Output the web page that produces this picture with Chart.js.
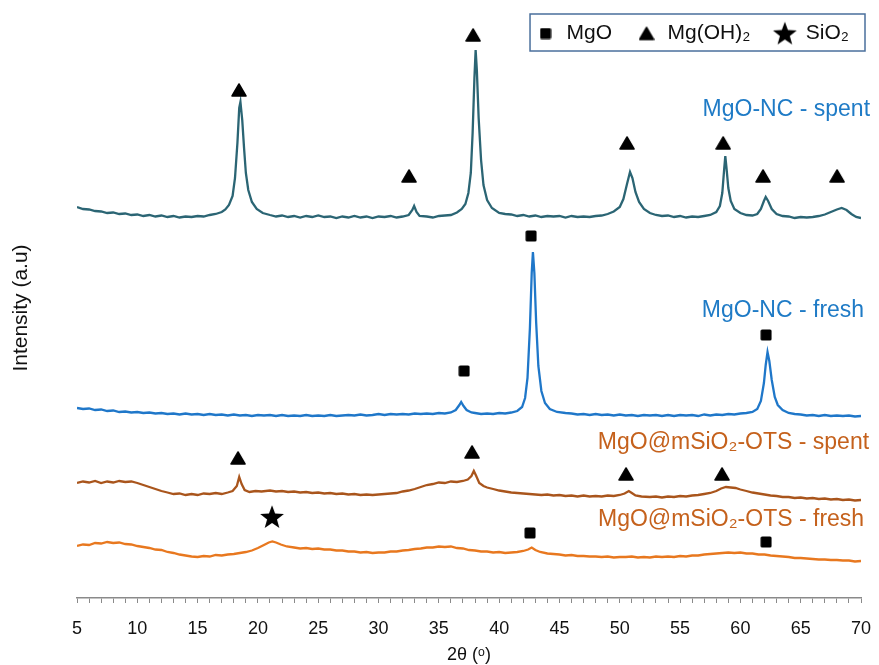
<!DOCTYPE html>
<html>
<head>
<meta charset="utf-8">
<script src="https://cdn.jsdelivr.net/npm/chart.js@4.4.1/dist/chart.umd.min.js"></script>
<style>
  body { margin: 0; background: #fff; }
  #wrap { width: 879px; height: 665px; }
</style>
</head>
<body>
<div id="wrap"><canvas id="myChart"></canvas></div>
<script>
// heights (arbitrary units, curves already offset)
const mgoNcSpent = [[5,391],[5.5,389],[6,388.5],[6.5,387],[7,386.5],[7.5,385],[8,385.5],[8.5,384],[9,384.5],[9.5,383],[10,383.5],[10.5,382],[11,383],[11.5,381.5],[12,382.5],[12.5,381],[13,382],[13.5,380.5],[14,381.5],[14.5,381],[15,382],[15.5,381.5],[16,383],[16.5,384],[17,386],[17.3,388.5],[17.6,393],[17.9,402],[18.1,420],[18.3,455],[18.45,490],[18.55,496],[18.7,478],[18.85,450],[19,425],[19.2,408],[19.5,396],[19.9,389],[20.4,385],[21,383],[21.5,381.5],[22,382.5],[22.5,381],[23,382],[23.5,380.5],[24,382],[24.5,381],[25,382.5],[25.5,381],[26,381.5],[26.5,380],[27,381.5],[27.5,380.5],[28,382],[28.5,380.5],[29,381.5],[29.5,380],[30,381.5],[30.5,381],[31,382],[31.5,380.5],[32,381.5],[32.5,383],[32.8,388],[32.95,392],[33.15,386],[33.4,382],[34,381.5],[34.5,380.5],[35,382],[35.5,382.5],[36,383],[36.5,385.5],[36.9,389],[37.2,394],[37.45,405],[37.65,425],[37.8,465],[37.95,520],[38.05,548],[38.15,528],[38.3,480],[38.5,438],[38.7,413],[39,398],[39.4,390],[40,385],[40.5,384],[41,383.5],[41.5,382],[42,383],[42.5,381.5],[43,382.5],[43.5,381],[44,382],[44.5,381.5],[45,382],[45.5,380.5],[46,382],[46.5,381],[47,381.5],[47.5,381],[48,382],[48.5,382.5],[49,384],[49.5,386.5],[50,391],[50.3,399],[50.6,414],[50.85,426],[51.05,420],[51.3,406],[51.6,396],[52,389],[52.5,385],[53,383],[53.5,382],[54,382.5],[54.5,381],[55,382],[55.5,380.5],[56,381.5],[56.5,381],[57,382],[57.5,383],[58,386],[58.3,392],[58.5,405],[58.65,428],[58.75,442],[58.85,430],[59,410],[59.2,397],[59.5,389],[60,385],[60.5,383],[61,382.5],[61.4,384],[61.7,389],[61.95,397],[62.1,401],[62.3,397],[62.6,389],[63,384],[63.5,382],[64,381.5],[64.5,380],[65,381],[65.5,380.5],[66,381],[66.5,382],[67,383.5],[67.5,386],[68,388.5],[68.4,390],[68.8,388],[69.2,384],[69.6,381],[70,380]];

const mgoNcFresh = [[5,190],[5.5,189],[6,189.5],[6.5,188],[7,188.5],[7.5,187],[8,187.5],[8.5,186],[9,186.5],[9.5,185.5],[10,186],[10.5,185],[11,185.5],[11.5,184.5],[12,185],[12.5,184],[13,184.5],[13.5,183.5],[14,184.5],[14.5,183.5],[15,184],[15.5,183],[16,184],[16.5,183],[17,183.5],[17.5,182.5],[18,183.5],[18.5,182.5],[19,183],[19.5,182],[20,183],[20.5,182.5],[21,183],[21.5,182],[22,183],[22.5,182],[23,182.5],[23.5,182],[24,183],[24.5,182],[25,182.5],[25.5,182],[26,183],[26.5,182],[27,182.5],[27.5,183],[28,182.5],[28.5,183.5],[29,182.5],[29.5,183],[30,184],[30.5,183],[31,184],[31.5,183.5],[32,184],[32.5,183.5],[33,184.5],[33.5,184],[34,184.5],[34.5,184],[35,185],[35.5,184.5],[36,185.5],[36.4,188],[36.7,193],[36.85,196],[37.05,192],[37.3,188],[37.7,185.5],[38,185],[38.5,184],[39,184.5],[39.5,184],[40,185],[40.5,184.5],[41,185.5],[41.5,187],[41.9,191],[42.15,200],[42.35,220],[42.55,270],[42.7,325],[42.8,346],[42.92,325],[43.07,275],[43.25,232],[43.5,207],[43.8,195],[44.2,189],[44.8,186],[45.5,185],[46,184.5],[46.5,183.5],[47,184],[47.5,183],[48,184],[48.5,183],[49,183.5],[49.5,182.5],[50,183.5],[50.5,182.5],[51,183],[51.5,182],[52,183],[52.5,182.5],[53,183],[53.5,182],[54,183],[54.5,182],[55,183],[55.5,182.5],[56,183],[56.5,182],[57,183.5],[57.5,182.5],[58,183.5],[58.5,183],[59,184],[59.5,183.5],[60,184.5],[60.5,185],[61,186],[61.4,189],[61.7,197],[61.95,215],[62.1,233],[62.25,246],[62.4,237],[62.6,218],[62.85,201],[63.1,193],[63.5,188],[64,185],[64.5,184],[65,183.5],[65.5,182.5],[66,183],[66.5,182],[67,183],[67.5,182],[68,182.5],[68.5,182],[69,182.5],[69.5,181.5],[70,182]];

const otsSpent = [[5,115],[5.5,116.5],[6,115.5],[6.5,117],[7,115],[7.5,116.5],[8,115.5],[8.5,117],[9,116],[9.5,116.5],[10,115],[10.5,113],[11,111],[11.5,109],[12,107],[12.5,105.5],[13,104],[13.5,104.5],[14,103],[14.5,104],[15,103],[15.5,104.5],[16,104],[16.5,105],[17,104],[17.5,105.5],[17.9,107],[18.25,112],[18.45,121],[18.65,114],[18.9,108],[19.3,106],[19.8,107],[20.3,106.5],[21,107.5],[21.5,106.5],[22,107],[22.5,106],[23,106.5],[23.5,105.5],[24,106],[24.5,105],[25,105.5],[25.5,104.5],[26,105],[26.5,104],[27,104.5],[27.5,103.5],[28,104],[28.5,103],[29,103.5],[29.5,103],[30,103.5],[30.5,104],[31,104.5],[31.5,105],[32,106.5],[32.5,107.5],[33,109],[33.5,111],[34,113],[34.5,114],[35,115.5],[35.5,115],[36,116.5],[36.5,116],[37,117],[37.4,118.5],[37.7,122],[37.9,127],[38.1,122],[38.35,115],[38.7,112],[39,110.5],[39.5,109],[40,107.5],[40.5,106.5],[41,105.5],[41.5,105],[42,104.5],[42.5,104],[43,103.5],[43.5,103],[44,103.5],[44.5,102.5],[45,103],[45.5,102],[46,102.5],[46.5,101.5],[47,102.5],[47.5,101.5],[48,102],[48.5,101.5],[49,102.5],[49.5,102],[50,103],[50.4,104.5],[50.75,107],[51,105],[51.3,102.5],[51.8,101.5],[52.5,101],[53,101.5],[53.5,100.5],[54,101.5],[54.5,101],[55,102],[55.5,101.5],[56,102.5],[56.5,103],[57,104],[57.5,105],[58,107],[58.4,109.5],[58.8,111],[59.2,110.5],[59.6,110],[60,108.5],[60.5,107],[61,105.5],[61.5,104.5],[62,103.5],[62.5,102.5],[63,102],[63.5,101],[64,101],[64.5,100],[65,100.5],[65.5,99.5],[66,100],[66.5,99],[67,99.5],[67.5,98.5],[68,99],[68.5,98],[69,98.5],[69.5,97.5],[70,98]];

const otsFresh = [[5,52],[5.5,53.5],[6,53],[6.5,55],[7,54.5],[7.5,56],[8,55],[8.5,55.5],[9,54],[9.5,53.5],[10,52],[10.5,51],[11,50],[11.5,48.5],[12,48],[12.5,46],[13,45],[13.5,43.5],[14,42.5],[14.5,41.5],[15,41],[15.5,42],[16,41.5],[16.5,43],[17,42.5],[17.5,43.5],[18,44],[18.5,45],[19,46],[19.5,47.5],[20,50],[20.5,53],[20.9,55.5],[21.2,56.5],[21.5,55.5],[21.9,53.5],[22.4,51.5],[23,50.5],[23.5,49.5],[24,50],[24.5,49],[25,49.5],[25.5,48.5],[26,48.5],[26.5,47.5],[27,47.5],[27.5,46.5],[28,46.5],[28.5,45.5],[29,46],[29.5,45],[30,45.5],[30.5,45.5],[31,46.5],[31.5,46.5],[32,47.5],[32.5,48],[33,49],[33.5,49.5],[34,50.5],[34.5,50.5],[35,51.5],[35.5,51],[36,51.5],[36.5,50],[37,49.5],[37.5,48],[38,47.5],[38.5,46.5],[39,46.5],[39.5,45.5],[40,46],[40.5,45],[41,45.5],[41.5,46],[42,47],[42.4,48.5],[42.7,50.5],[43,48],[43.4,46],[44,44.5],[44.5,44],[45,43.5],[45.5,42.5],[46,43],[46.5,42],[47,42],[47.5,41.5],[48,41.5],[48.5,41],[49,41.5],[49.5,40.5],[50,41],[50.5,41],[51,41.5],[51.5,40.5],[52,41],[52.5,40.5],[53,41.5],[53.5,41],[54,41.5],[54.5,41],[55,42],[55.5,41.5],[56,42.5],[56.5,42.5],[57,43.5],[57.5,44],[58,44.5],[58.5,45],[59,45.5],[59.5,45],[60,45.5],[60.5,44.5],[61,44.5],[61.5,43.5],[62,43.5],[62.5,42.5],[63,42],[63.5,41.5],[64,41],[64.5,40],[65,40],[65.5,39.5],[66,39],[66.5,38.5],[67,38.5],[67.5,38],[68,38],[68.5,37.5],[69,37.5],[69.5,36.5],[70,37]];

// phase markers above the peaks
const mgoMarks = [[37.1,227],[42.65,362],[62.13,263],[42.56,65],[62.13,56]];
const mgoh2Marks = [[18.43,508],[32.53,422],[37.84,563],[50.6,455],[58.57,455],[61.88,422],[68.02,422],[18.35,140],[37.75,146],[50.52,124],[58.48,124]];
const sio2Marks = [[21.17,81]];

const curveLabels = ['MgO-NC - spent', 'MgO-NC - fresh', 'MgO@mSiO₂-OTS - spent', 'MgO@mSiO₂-OTS - fresh'];
const labelX = [70.75, 70.26, 70.67, 70.26];
const labelY = [488, 287, 155, 78];
const labelColors = ['#1f7bc6', '#1f7bc6', '#c5611c', '#c5611c'];

const FONT = '"Liberation Sans", Arial, sans-serif';

// marker glyphs as small canvases so sizes can differ
function makeMark(kind) {
    const c = document.createElement('canvas');
    const s = kind === 'star' ? 26 : (kind === 'tri' ? 16 : 12);
    c.width = s; c.height = s;
    const g = c.getContext('2d');
    g.fillStyle = '#000';
    if (kind === 'square') {
        g.beginPath();
        g.roundRect(0.5, 0.5, 11, 11, 1.5);
        g.fill();
    } else if (kind === 'tri') {
        g.beginPath();
        g.moveTo(8, 2); g.lineTo(15, 14); g.lineTo(1, 14);
        g.closePath();
        g.lineJoin = 'round'; g.lineWidth = 1.5; g.strokeStyle = '#000';
        g.fill(); g.stroke();
    } else {
        g.beginPath();
        for (let i = 0; i < 10; i++) {
            const r = i % 2 === 0 ? 12.5 : 5.2;
            const a = -Math.PI / 2 + i * Math.PI / 5;
            g.lineTo(13 + r * Math.cos(a), 13.8 + r * Math.sin(a));
        }
        g.closePath();
        g.fill();
    }
    return c;
}
const squareImg = makeMark('square');
const triImg = makeMark('tri');
const starImg = makeMark('star');

function lineSet(label, pts, color) {
    return {
        type: 'line', label: label,
        data: pts.map(p => ({x: p[0], y: p[1]})),
        borderColor: color, borderWidth: 2.3, pointRadius: 0,
        tension: 0, fill: false
    };
}
function markSet(label, pts, img) {
    return {
        type: 'scatter', label: label,
        data: pts.map(p => ({x: p[0], y: p[1]})),
        pointStyle: img, backgroundColor: '#000', borderColor: '#000',
        clip: false
    };
}

// legend sits inside the top margin: it only reserves 4px in the layout
const legendBox = {
    id: 'legendBox',
    beforeUpdate(chart) {
        const lg = chart.legend;
        if (lg && !lg._shrunk) {
            const fit = lg.fit;
            lg.fit = function () { fit.call(this); this._fullH = this.height; this.height = 4; };
            lg._shrunk = true;
        }
    },
    afterLayout(chart) {
        const lg = chart.legend;
        if (lg && lg._fullH) {
            lg.top = -1;
            lg.height = lg._fullH;
            lg.bottom = lg.top + lg._fullH;
            lg.right = chart.width - 6;
        }
    },
    afterDraw(chart) {
        const ctx = chart.ctx;
        const hb = chart.legend.legendHitBoxes;
        if (!hb || !hb.length) return;
        const left = Math.min(...hb.map(b => b.left)) - 5;
        const right = Math.max(...hb.map(b => b.left + b.width)) + 16;
        ctx.save();
        ctx.strokeStyle = '#4a6f9c';
        ctx.lineWidth = 1.5;
        ctx.strokeRect(left, 14, right - left, 37);
        ctx.restore();
    }
};

const curveText = {
    id: 'curveText',
    afterDatasetsDraw(chart) {
        const ctx = chart.ctx;
        const xs = chart.scales.x, ys = chart.scales.y;
        ctx.save();
        ctx.font = '23px ' + FONT;
        ctx.textAlign = 'right';
        ctx.textBaseline = 'middle';
        curveLabels.forEach((t, i) => {
            ctx.fillStyle = labelColors[i];
            ctx.fillText(t, xs.getPixelForValue(labelX[i]), ys.getPixelForValue(labelY[i]));
        });
        ctx.restore();
    }
};

const ctx = document.getElementById('myChart').getContext('2d');
const myChart = new Chart(ctx, {
    data: {
        datasets: [
            markSet('MgO', mgoMarks, squareImg),
            markSet('Mg(OH)₂', mgoh2Marks, triImg),
            markSet('SiO₂', sio2Marks, starImg),
            lineSet('MgO-NC - spent', mgoNcSpent, '#2b6574'),
            lineSet('MgO-NC - fresh', mgoNcFresh, '#1f77c9'),
            lineSet('MgO@mSiO₂-OTS - spent', otsSpent, '#a9551c'),
            lineSet('MgO@mSiO₂-OTS - fresh', otsFresh, '#e8781f')
        ]
    },
    options: {
        responsive: true,
        maintainAspectRatio: false,
        animation: false,
        layout: { padding: { top: 14, right: 18, bottom: 0, left: 0 } },
        plugins: {
            legend: {
                position: 'top',
                align: 'end',
                labels: {
                    usePointStyle: true,
                    filter: item => item.datasetIndex < 3,
                    font: { size: 21, family: FONT },
                    color: '#111',
                    padding: 24
                }
            },
            tooltip: { enabled: false }
        },
        scales: {
            x: {
                type: 'linear', min: 5, max: 70,
                ticks: {
                    stepSize: 1, autoSkip: false, maxRotation: 0,
                    callback: v => (v % 5 === 0 ? v : ''),
                    color: '#111', font: { size: 18, family: FONT, lineHeight: 1 }, padding: 17
                },
                grid: { drawOnChartArea: false, drawTicks: true, tickLength: 5, color: '#8a8a8a' },
                border: { color: '#8a8a8a', width: 1.5 },
                title: {
                    display: true, text: '2θ (ᵒ)', color: '#111',
                    font: { size: 18, family: FONT, lineHeight: 1 }, padding: { top: 9, bottom: 1 }
                },
                afterFit: s => { s.height = 67; s.paddingLeft = 0; s.paddingRight = 0; }
            },
            y: {
                min: 0, max: 580,
                ticks: { display: false },
                grid: { display: false },
                border: { display: false },
                title: {
                    display: true, text: 'Intensity (a.u)', color: '#111',
                    font: { size: 21, family: FONT }, padding: { top: 9, bottom: 0 }
                },
                afterFit: s => { s.width = 77; }
            }
        }
    },
    plugins: [legendBox, curveText]
});
</script>
</body>
</html>
